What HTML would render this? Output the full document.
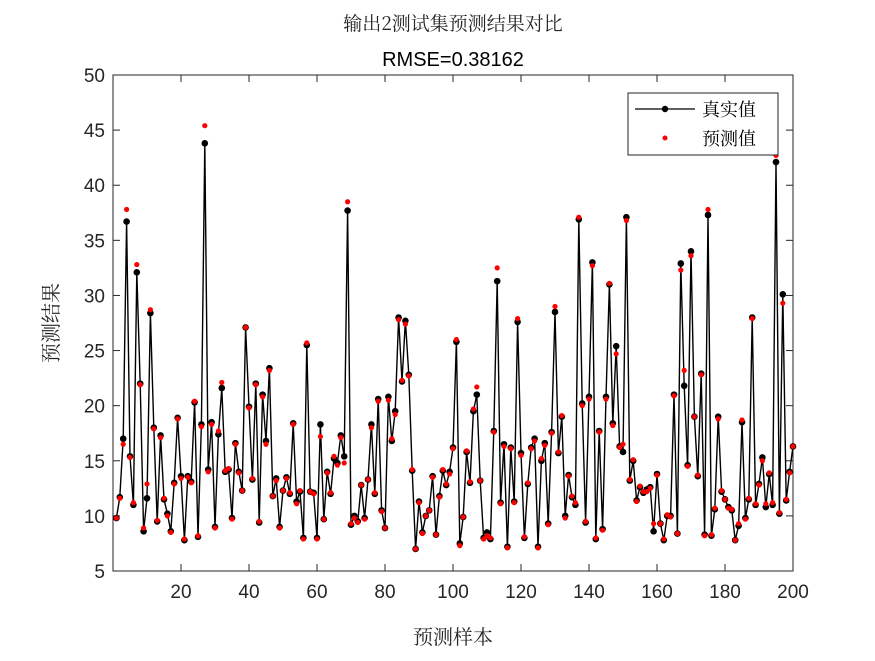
<!DOCTYPE html>
<html><head><meta charset="utf-8"><style>
body{margin:0;background:#fff;}
svg text{font-family:"Liberation Sans","Noto Sans CJK SC",sans-serif;}
</style></head><body>
<svg id="chart" width="875" height="656" xmlns="http://www.w3.org/2000/svg">
<rect width="875" height="656" fill="#fff"/>
<text x="453" y="30" font-size="19" text-anchor="middle" fill="#262626" style="font-family:'Noto Serif CJK SC','Noto Sans CJK SC',serif">输出2测试集预测结果对比</text>
<text x="453" y="66" font-size="20" text-anchor="middle" fill="#000">RMSE=0.38162</text>
<g id="axes"></g>
<g id="series"></g>
<text x="453" y="644" font-size="20" text-anchor="middle" fill="#262626" style="font-family:'Noto Serif CJK SC','Noto Sans CJK SC',serif">预测样本</text>
<text transform="translate(58,323) rotate(-90)" font-size="20" text-anchor="middle" fill="#262626" style="font-family:'Noto Serif CJK SC','Noto Sans CJK SC',serif">预测结果</text>
<g>
<rect x="628" y="93" width="150" height="62" fill="#fff" stroke="#262626" stroke-width="1"/>
<line x1="635" y1="109" x2="695" y2="109" stroke="#000" stroke-width="1.3"/>
<circle cx="665" cy="109" r="3.2" fill="#000"/>
<text x="702" y="116" font-size="18" fill="#000" style="font-family:'Noto Serif CJK SC','Noto Sans CJK SC',serif">真实值</text>
<circle cx="665" cy="138" r="2.5" fill="#f00"/>
<text x="702" y="145" font-size="18" fill="#000" style="font-family:'Noto Serif CJK SC','Noto Sans CJK SC',serif">预测值</text>
</g>
</svg>
<script>
const trueVals=[9.8,11.7,17,36.7,15.4,11,32.1,22,8.6,11.6,28.4,18,9.5,17.3,11.5,10.2,8.6,13,18.9,13.6,7.8,13.6,13.1,20.3,8.1,18.3,43.8,14.2,18.5,9,17.4,21.6,14,14.2,9.8,16.6,14,12.3,27.1,19.9,13.3,22,9.4,21,16.8,23.4,11.8,13.4,9,12.3,13.5,12,18.4,11.3,12.2,8,25.5,12.2,12.1,8,18.3,9.7,14,12,15.2,14.8,17.3,15.4,37.7,9.2,10,9.5,12.8,9.8,13.3,18.3,12,20.6,10.5,8.9,20.8,16.8,19.5,28,22.2,27.7,22.8,14.1,7,11.3,8.5,10,10.5,13.6,8.3,11.8,14.1,12.8,14,16.2,25.8,7.5,9.9,15.8,13,19.5,21,13.2,8,8.5,7.9,17.7,31.3,11.2,16.5,7.2,16.2,11.3,27.6,15.7,8,12.9,16.2,17,7.2,15,16.6,9.3,17.6,28.5,15.7,19,10,13.7,11.7,11,36.9,20.2,9.4,20.8,33,7.9,17.7,8.8,20.8,31,18.4,25.4,16.3,15.8,37.1,13.2,15,11.4,12.6,12.1,12.4,12.6,8.6,13.8,9.3,7.8,10,10,21,8.4,32.9,21.8,14.6,34,19,13.6,22.9,8.3,37.3,8.2,10.6,19,12.2,11.5,10.8,10.5,7.8,9.1,18.5,9.8,11.5,28,11,12.9,15.3,10.8,13.8,11,42.1,10.2,30.1,11.4,14,16.3];
const predVals=[9.8,11.6,16.5,37.8,15.3,11.2,32.8,21.9,8.9,12.9,28.7,17.9,9.6,17.1,11.6,10,8.5,12.9,18.8,13.4,7.9,13.5,13,20.4,8.2,18.1,45.4,14,18.3,8.9,17.7,22.1,14.1,14.3,9.7,16.5,13.9,12.3,27.1,19.8,13.4,21.9,9.5,20.8,16.5,23.2,11.8,13.2,8.9,12.3,13.4,12.1,18.3,11.1,12.3,7.9,25.7,12.2,12,7.9,17.2,9.7,13.9,12.1,15.4,14.6,17.1,14.8,38.5,9.3,9.8,9.4,12.8,9.7,13.3,18,12.1,20.4,10.4,8.9,20.5,17,19.2,27.8,22.3,27.4,22.7,14.2,7,11.2,8.4,10,10.5,13.5,8.3,11.7,14.2,12.9,13.8,16.1,26,7.3,9.9,15.9,13.1,19.7,21.7,13.2,7.9,8.2,8,17.6,32.5,11.1,16.3,7.1,16.1,11.2,27.9,15.5,8.1,13,16.1,16.8,7.1,15.2,16.4,9.2,17.5,29,15.8,19.1,9.8,13.6,11.8,11.2,37.1,20,9.5,20.6,32.7,8,17.6,8.7,20.6,31.1,18.2,24.7,16.2,16.5,36.8,13.3,15.1,11.3,12.7,12.2,12.2,12.5,9.3,13.7,9.3,7.9,10.1,9.9,20.9,8.4,32.3,23.2,14.5,33.6,19,13.7,22.8,8.2,37.8,8.3,10.7,18.8,12.3,11.5,10.7,10.6,7.8,9.3,18.7,9.7,11.6,27.9,11.1,12.8,15,11.1,13.9,11.2,42.7,10.3,29.3,11.5,13.9,16.3];
const xTicks=[20,40,60,80,100,120,140,160,180,200];
const yTicks=[5,10,15,20,25,30,35,40,45,50];
const L=113,R=793,T=75,B=571,XMIN=0,XMAX=200,YMIN=5,YMAX=50;
function xs(v){return L+(v-XMIN)/(XMAX-XMIN)*(R-L);}
function ys(v){return B-(v-YMIN)/(YMAX-YMIN)*(B-T);}
const NS='http://www.w3.org/2000/svg';
function mk(tag,attrs,parent){const e=document.createElementNS(NS,tag);for(const k in attrs)e.setAttribute(k,attrs[k]);parent.appendChild(e);return e;}
const ax=document.getElementById('axes');
const frame=mk('rect',{x:L,y:T,width:R-L,height:B-T,fill:'none',stroke:'#262626','stroke-width':1},ax);


xTicks.forEach(t=>{const x=xs(t);
 mk('line',{x1:x,y1:B,x2:x,y2:B-7,stroke:'#262626'},ax);
 mk('line',{x1:x,y1:T,x2:x,y2:T+7,stroke:'#262626'},ax);
 const tx=mk('text',{x:x,y:B+27,'font-size':19,'text-anchor':'middle',fill:'#262626'},ax);
 tx.textContent=t;
 
 
});
yTicks.forEach(t=>{const y=ys(t);
 mk('line',{x1:L,y1:y,x2:L+7,y2:y,stroke:'#262626'},ax);
 mk('line',{x1:R,y1:y,x2:R-7,y2:y,stroke:'#262626'},ax);
 const tx=mk('text',{x:L-8,y:y+7,'font-size':19,'text-anchor':'end',fill:'#262626'},ax);
 tx.textContent=t;
 
 
});
const sg=document.getElementById('series');
const pts=trueVals.map((v,i)=>xs(i+1).toFixed(2)+','+ys(v).toFixed(2)).join(' ');
const line=mk('polyline',{points:pts,fill:'none',stroke:'#000','stroke-width':1.4},sg);


trueVals.forEach((v,i)=>{const c=mk('circle',{cx:xs(i+1),cy:ys(v),r:3.3,fill:'#000'},sg);
 
 });
predVals.forEach((v,i)=>{const c=mk('circle',{cx:xs(i+1),cy:ys(v),r:2.6,fill:'#f00'},sg);
 
 });
</script>
</body></html>
